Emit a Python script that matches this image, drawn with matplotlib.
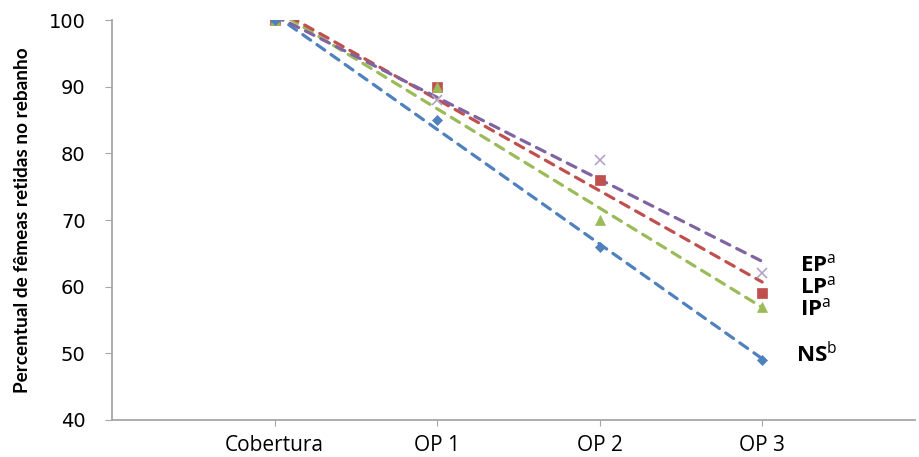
import matplotlib
matplotlib.use("Agg")
import matplotlib.pyplot as plt
import numpy as np

categories = ["Cobertura", "OP 1", "OP 2", "OP 3"]
ns = [100, 85, 66, 49]
ip = [100, 90, 70, 57]
lp = [100, 90, 76, 59]
ep = [100, 88, 79, 62]
yticks = [40, 50, 60, 70, 80, 90, 100]

plt.rcParams['mathtext.fontset'] = 'custom'
plt.rcParams['mathtext.rm'] = 'Open Sans'
plt.rcParams['mathtext.bf'] = 'Open Sans:bold'

fig = plt.figure(figsize=(9.19, 4.57), dpi=100)
ax = fig.add_axes([0.122, 0.081, 0.8736, 0.875])

x = np.arange(1, len(categories) + 1)

series = [
    ("NS", ns, "#4F81BD", "D", 5.5, "#4F81BD"),
    ("IP", ip, "#9BBB59", "^", 7, "#9BBB59"),
    ("LP", lp, "#C0504D", "s", 7, "#C0504D"),
    ("EP", ep, "#8064A2", "x", 7, "#B3A2C7"),
]

for name, vals, col, mk, ms, mcol in series:
    coef = np.polyfit(x, vals, 1)
    xt = np.array([x[0], x[-1]])
    ax.plot(xt, np.polyval(coef, xt), color=col, lw=2.3, ls=(0, (3.0, 2.4)),
            dash_capstyle='round', zorder=2)
for name, vals, col, mk, ms, mcol in reversed(series):
    ax.plot(x, vals, ls='none', marker=mk, ms=ms, color=mcol,
            mew=1.2 if mk == 'x' else 0.5, zorder=3)

ax.set_xlim(0, 4.94)
ax.set_ylim(40, 100)
ax.set_yticks(yticks)
ax.set_yticklabels([str(v) for v in yticks], fontsize=14, family='DejaVu Sans')
ax.set_xticks(x)
ax.set_xticklabels(categories, fontsize=15, family='Open Sans')
ax.tick_params(axis='x', length=4, color='#A6A6A6', pad=7)
ax.tick_params(axis='y', length=5, color='#A6A6A6', pad=14)

for s in ['top', 'right']:
    ax.spines[s].set_visible(False)
for s in ['left', 'bottom']:
    ax.spines[s].set_color('#A6A6A6')
    ax.spines[s].set_linewidth(1.3)

ax.set_ylabel("Percentual de fêmeas retidas no rebanho", fontsize=13.7,
              fontweight='bold', family='Lato', labelpad=13)

lab_kw = dict(fontsize=16, color='black', ha='left', va='center')
ax.text(4.23, 63.3, r"$\mathbf{EP}^{\mathrm{a}}$", **lab_kw)
ax.text(4.23, 60.0, r"$\mathbf{LP}^{\mathrm{a}}$", **lab_kw)
ax.text(4.23, 56.7, r"$\mathbf{IP}^{\mathrm{a}}$", **lab_kw)
ax.text(4.21, 50.0, r"$\mathbf{NS}^{\mathrm{b}}$", **lab_kw)

fig.savefig("out.png", dpi=100)
